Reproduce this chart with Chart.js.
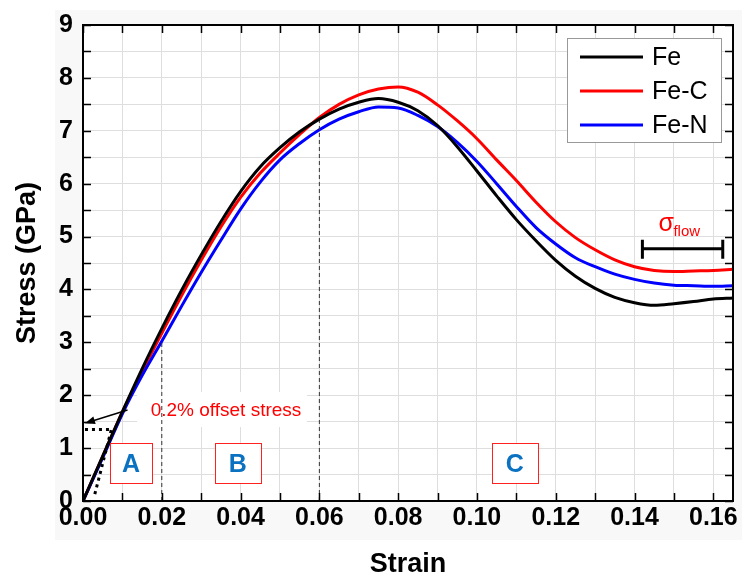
<!DOCTYPE html>
<html>
<head>
<meta charset="utf-8">
<script src="https://cdn.jsdelivr.net/npm/chart.js@4.4.0/dist/chart.umd.min.js"></script>
<style>
  html, body { margin: 0; padding: 0; background: #fff; }
  canvas { display: block; }
</style>
</head>
<body>
<canvas id="stressChart" width="742" height="576"></canvas>
<script>
// strain values shared by all three curves
const strain = [0, 0.005, 0.01, 0.015, 0.02, 0.025, 0.03, 0.035, 0.04, 0.045, 0.05, 0.055,
    0.06, 0.065, 0.07, 0.075, 0.08, 0.085, 0.09, 0.095, 0.1, 0.105, 0.11, 0.115,
    0.12, 0.125, 0.13, 0.135, 0.14, 0.145, 0.15, 0.155, 0.16, 0.165];

const feStress = [0, 0.85, 1.69, 2.5, 3.26, 3.98, 4.65, 5.28, 5.85, 6.32, 6.68, 6.98,
    7.22, 7.41, 7.54, 7.61, 7.54, 7.38, 7.1, 6.7, 6.24, 5.77, 5.32, 4.92,
    4.55, 4.25, 4.02, 3.85, 3.75, 3.70, 3.73, 3.77, 3.82, 3.84];

const feCStress = [0, 0.84, 1.68, 2.45, 3.17, 3.88, 4.55, 5.18, 5.74, 6.2, 6.58, 6.93,
    7.25, 7.5, 7.68, 7.79, 7.83, 7.73, 7.49, 7.19, 6.85, 6.45, 6.06, 5.65,
    5.28, 4.98, 4.75, 4.56, 4.43, 4.36, 4.34, 4.35, 4.36, 4.38];

const feNStress = [0, 0.82, 1.65, 2.37, 3.02, 3.68, 4.32, 4.93, 5.52, 6.03, 6.45, 6.76,
    7.02, 7.22, 7.36, 7.45, 7.43, 7.29, 7.08, 6.78, 6.42, 6.0, 5.57, 5.17,
    4.86, 4.6, 4.43, 4.29, 4.19, 4.12, 4.08, 4.07, 4.06, 4.07];

const seriesLabels = ["Fe", "Fe-C", "Fe-N"];
const seriesColors = ["#000000", "#ff0000", "#0000ff"];

// annotation guides (data units)
const regionBounds = [0.02, 0.06];
const regionBoundTops = [3.0, 7.25];
const offsetLineX = [0.003, 0.0073];
const offsetLineY = [0.13, 1.38];
const offsetLevelX = [0.0005, 0.0068];
const offsetLevelY = 1.35;
const arrowFrom = [0.0113, 1.72];
const arrowTo = [0.0005, 1.47];
const regionNames = ["A", "B", "C"];
const regionNameX = [0.0122, 0.0393, 0.1096];
const regionNameY = 0.72;
const flowRange = [0.142, 0.1624];
const flowLevel = 4.77;

const FONT = "'Liberation Sans', Arial, sans-serif";

function pts(xs, ys) {
    return xs.map((x, i) => ({ x: x, y: ys[i] }));
}

const guide = {
    borderColor: "#333",
    borderWidth: 1,
    borderDash: [4, 3],
    pointRadius: 0,
    fill: false
};

const decor = {
    id: "decor",
    beforeDraw(chart) {
        const { ctx, chartArea: a } = chart;
        ctx.save();
        ctx.fillStyle = "#ffffff";
        ctx.fillRect(0, 0, chart.width, chart.height);
        ctx.fillStyle = "#f8f8f8";
        ctx.fillRect(55, 10, chart.width - 55, 530);
        ctx.fillStyle = "#ffffff";
        ctx.fillRect(a.left, a.top, a.right - a.left, a.bottom - a.top);
        ctx.restore();
    },
    beforeDatasetsDraw(chart) {
        const { ctx, scales: { x, y } } = chart;
        ctx.save();
        // white panel behind the offset label
        const cx = x.getPixelForValue(0.0363), cy = y.getPixelForValue(arrowFrom[1]);
        ctx.fillStyle = "#ffffff";
        ctx.fillRect(cx - 89, cy - 18, 170, 35);
        // region boxes
        regionNames.forEach((n, i) => {
            const px = x.getPixelForValue(regionNameX[i]);
            const py = y.getPixelForValue(regionNameY);
            const w = i === 0 ? 42 : 46;
            ctx.fillStyle = "#ffffff";
            ctx.fillRect(px - w / 2, py - 20, w, 40);
        });
        ctx.restore();
    },
    afterDatasetsDraw(chart) {
        const { ctx, chartArea: a, scales: { x, y } } = chart;
        ctx.save();

        // frame
        ctx.strokeStyle = "#000";
        ctx.lineWidth = 2;
        ctx.strokeRect(a.left, a.top, a.right - a.left, a.bottom - a.top);

        // inward ticks on all sides
        ctx.lineWidth = 1.5;
        ctx.beginPath();
        x.ticks.forEach(t => {
            const px = Math.round(x.getPixelForValue(t.value)) + 0.5;
            ctx.moveTo(px, a.bottom); ctx.lineTo(px, a.bottom - 8);
            ctx.moveTo(px, a.top); ctx.lineTo(px, a.top + 8);
        });
        y.ticks.forEach(t => {
            const py = Math.round(y.getPixelForValue(t.value)) + 0.5;
            ctx.moveTo(a.left, py); ctx.lineTo(a.left + 8, py);
            ctx.moveTo(a.right, py); ctx.lineTo(a.right - 8, py);
        });
        ctx.stroke();

        // region boxes and letters
        regionNames.forEach((n, i) => {
            const px = x.getPixelForValue(regionNameX[i]);
            const py = y.getPixelForValue(regionNameY);
            const w = i === 0 ? 42 : 46;
            ctx.strokeStyle = "#ff2020";
            ctx.lineWidth = 1;
            ctx.strokeRect(Math.round(px - w / 2) + 0.5, Math.round(py - 20) + 0.5, w, 40);
            ctx.fillStyle = "#0a72c0";
            ctx.font = "bold 25px " + FONT;
            ctx.textAlign = "center";
            ctx.textBaseline = "middle";
            ctx.fillText(n, px, py + 2);
        });

        // offset stress label and arrow
        ctx.fillStyle = "#ff0000";
        ctx.font = "19px " + FONT;
        ctx.textAlign = "center";
        ctx.textBaseline = "middle";
        ctx.fillText("0.2% offset stress", x.getPixelForValue(0.0363), y.getPixelForValue(arrowFrom[1]) + 1);

        const ax0 = x.getPixelForValue(arrowFrom[0]), ay0 = y.getPixelForValue(arrowFrom[1]);
        const ax1 = x.getPixelForValue(arrowTo[0]), ay1 = y.getPixelForValue(arrowTo[1]);
        const ang = Math.atan2(ay1 - ay0, ax1 - ax0);
        ctx.strokeStyle = "#000";
        ctx.lineWidth = 1.5;
        ctx.beginPath();
        ctx.moveTo(ax0, ay0);
        ctx.lineTo(ax1 - 6 * Math.cos(ang), ay1 - 6 * Math.sin(ang));
        ctx.stroke();
        ctx.fillStyle = "#000";
        ctx.beginPath();
        ctx.moveTo(ax1, ay1);
        ctx.lineTo(ax1 - 10 * Math.cos(ang) + 4 * Math.sin(ang), ay1 - 10 * Math.sin(ang) - 4 * Math.cos(ang));
        ctx.lineTo(ax1 - 10 * Math.cos(ang) - 4 * Math.sin(ang), ay1 - 10 * Math.sin(ang) + 4 * Math.cos(ang));
        ctx.closePath();
        ctx.fill();

        // flow stress bar
        const fx0 = x.getPixelForValue(flowRange[0]), fx1 = x.getPixelForValue(flowRange[1]);
        const fy = y.getPixelForValue(flowLevel);
        ctx.strokeStyle = "#000";
        ctx.lineWidth = 3;
        ctx.beginPath();
        ctx.moveTo(fx0, fy); ctx.lineTo(fx1, fy);
        ctx.moveTo(fx0, fy - 9); ctx.lineTo(fx0, fy + 10);
        ctx.moveTo(fx1, fy - 9); ctx.lineTo(fx1, fy + 10);
        ctx.stroke();
        ctx.fillStyle = "#ff0000";
        ctx.textAlign = "left";
        ctx.textBaseline = "alphabetic";
        ctx.font = "25px " + FONT;
        ctx.fillText("σ", fx0 + 16, fy - 18);
        ctx.font = "15px " + FONT;
        ctx.fillText("flow", fx0 + 31, fy - 13);

        // legend
        const lx = 567, ly = 38, lw = 154, lh = 104;
        ctx.fillStyle = "#ffffff";
        ctx.fillRect(lx, ly, lw, lh);
        ctx.strokeStyle = "#999";
        ctx.lineWidth = 1;
        ctx.strokeRect(lx + 0.5, ly + 0.5, lw, lh);
        seriesLabels.forEach((lab, i) => {
            const ry = ly + 19 + i * 34;
            ctx.strokeStyle = seriesColors[i];
            ctx.lineWidth = 3;
            ctx.beginPath();
            ctx.moveTo(lx + 13, ry); ctx.lineTo(lx + 76, ry);
            ctx.stroke();
            ctx.fillStyle = "#000";
            ctx.font = "25px " + FONT;
            ctx.textAlign = "left";
            ctx.textBaseline = "middle";
            ctx.fillText(lab, lx + 85, ry + 1);
        });

        ctx.restore();
    }
};

const ctx = document.getElementById("stressChart").getContext("2d");

new Chart(ctx, {
    type: "line",
    data: {
        datasets: [
            {
                label: seriesLabels[0], data: pts(strain, feStress),
                borderColor: seriesColors[0], borderWidth: 3, pointRadius: 0,
                cubicInterpolationMode: "monotone", order: 0
            },
            {
                label: seriesLabels[1], data: pts(strain, feCStress),
                borderColor: seriesColors[1], borderWidth: 3, pointRadius: 0,
                cubicInterpolationMode: "monotone", order: 2
            },
            {
                label: seriesLabels[2], data: pts(strain, feNStress),
                borderColor: seriesColors[2], borderWidth: 3, pointRadius: 0,
                cubicInterpolationMode: "monotone", order: 1
            },
            Object.assign({ data: [{ x: regionBounds[0], y: 0 }, { x: regionBounds[0], y: regionBoundTops[0] }] }, guide),
            Object.assign({ data: [{ x: regionBounds[1], y: 0 }, { x: regionBounds[1], y: regionBoundTops[1] }] }, guide),
            {
                data: pts(offsetLineX, offsetLineY),
                borderColor: "#000", borderWidth: 3, borderDash: [3, 4], pointRadius: 0
            },
            {
                data: pts(offsetLevelX, [offsetLevelY, offsetLevelY]),
                borderColor: "#000", borderWidth: 3, borderDash: [3, 4], pointRadius: 0
            }
        ]
    },
    options: {
        responsive: false,
        animation: false,
        devicePixelRatio: 1,
        layout: { padding: { left: 0, right: 9, top: 24, bottom: 0 } },
        plugins: {
            legend: { display: false },
            tooltip: { enabled: false }
        },
        scales: {
            x: {
                type: "linear",
                min: 0,
                max: 0.165,
                afterFit: s => { s.height = 75; },
                grid: { color: "#dedede", lineWidth: 1, drawTicks: false },
                border: { display: false },
                ticks: {
                    stepSize: 0.01,
                    includeBounds: false,
                    autoSkip: false,
                    maxRotation: 0,
                    padding: 2,
                    color: "#000",
                    font: { family: FONT, size: 25, weight: "bold" },
                    callback: v => Math.round(v * 100) % 2 === 0 ? v.toFixed(2) : ""
                },
                title: {
                    display: true,
                    text: "Strain",
                    color: "#000",
                    padding: 0,
                    font: { family: FONT, size: 27, weight: "bold", lineHeight: 0.85 }
                }
            },
            y: {
                min: 0,
                max: 9,
                afterFit: s => { s.width = 83; },
                grid: { color: "#dedede", lineWidth: 1, drawTicks: false },
                border: { display: false },
                ticks: {
                    stepSize: 0.5,
                    autoSkip: false,
                    padding: 10,
                    color: "#000",
                    font: { family: FONT, size: 25, weight: "bold" },
                    callback: v => Number.isInteger(v) ? v : ""
                },
                title: {
                    display: true,
                    text: "Stress (GPa)",
                    color: "#000",
                    padding: { top: 14, bottom: 0 },
                    font: { family: FONT, size: 27, weight: "bold", lineHeight: 1 }
                }
            }
        }
    },
    plugins: [decor]
});
</script>
</body>
</html>
